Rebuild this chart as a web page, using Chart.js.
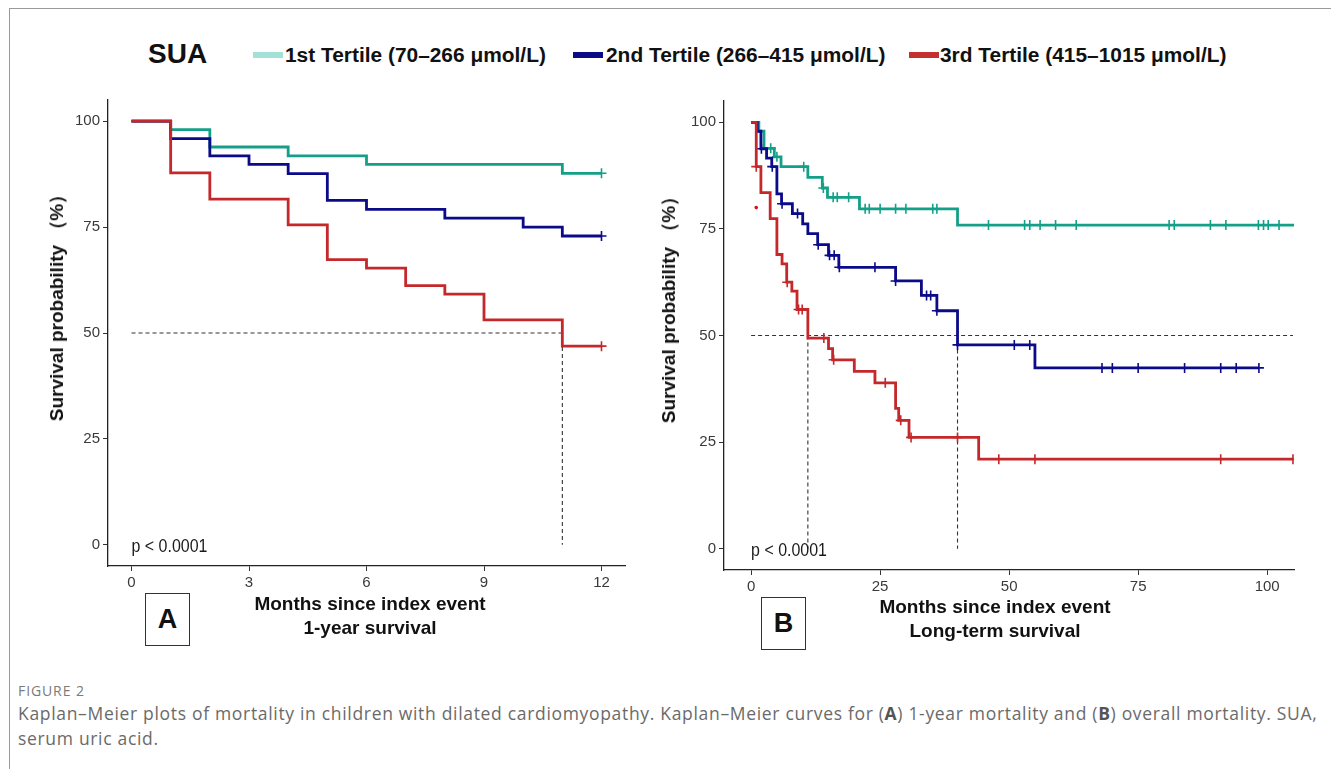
<!DOCTYPE html>
<html lang="en">
<head>
<meta charset="UTF-8">
<title>SUA Kaplan-Meier</title>
<script src="https://cdn.jsdelivr.net/npm/chart.js"></script>
<style>
    body {
        margin: 0;
        width: 1331px;
        height: 769px;
        position: relative;
        overflow: hidden;
        background: #fff;
        font-family: 'Liberation Sans', Arial, sans-serif;
    }
    .frame-top { position: absolute; left: 9px; top: 8px; right: 0; border-top: 1px solid #9a9a9a; }
    .frame-left { position: absolute; left: 9px; top: 8px; bottom: 0; border-left: 1px solid #9a9a9a; }
    canvas { position: absolute; }
    .abs { position: absolute; white-space: nowrap; }
    .sua { left: 148px; top: 38px; font: bold 28px 'Liberation Sans', Arial, sans-serif; color: #111; }
    .swatch { position: absolute; top: 52px; width: 30px; height: 6px; }
    .leg { top: 43px; font: bold 20.9px 'Liberation Sans', Arial, sans-serif; color: #111; }
    .ytitle {
        position: absolute; white-space: nowrap;
        font: bold 19px 'Liberation Sans', Arial, sans-serif; color: #111;
        transform: translate(-50%, -50%) rotate(-90deg);
    }
    .xtitle {
        position: absolute; white-space: nowrap; text-align: center;
        font: bold 19px 'Liberation Sans', Arial, sans-serif; color: #111;
        line-height: 24px; transform: translateX(-50%);
    }
    .panel-box {
        position: absolute; width: 43px; height: 51px;
        border: 1.5px solid #1f3557; background: #fff;
        font: bold 27px 'Liberation Sans', Arial, sans-serif; color: #111;
        display: flex; align-items: center; justify-content: center;
    }
    .figlabel { left: 18px; top: 681px; font: 14px 'Open Sans', sans-serif; color: #7a7a7a; letter-spacing: 0.9px; }
    .caption { left: 18px; top: 701px; font: 17.5px 'Open Sans', sans-serif; color: #6a6a6a; line-height: 25px; letter-spacing: 0.68px; }
    .caption b { color: #555; }
</style>
</head>
<body>
<div class="frame-top"></div>
<div class="frame-left"></div>

<!-- legend -->
<div class="abs sua">SUA</div>
<div class="swatch" style="left:253px;background:#a3e1d8"></div>
<div class="abs leg" style="left:285px">1st Tertile (70–266 μmol/L)</div>
<div class="swatch" style="left:573px;background:#0b0b86"></div>
<div class="abs leg" style="left:606px">2nd Tertile (266–415 μmol/L)</div>
<div class="swatch" style="left:909px;background:#c4302e"></div>
<div class="abs leg" style="left:940px">3rd Tertile (415–1015 μmol/L)</div>

<canvas id="chartA" width="620" height="572" style="left:20px;top:88px"></canvas>
<canvas id="chartB" width="680" height="571" style="left:640px;top:89px"></canvas>

<div class="ytitle" style="left:57px;top:303px">Survival probability （%）</div>
<div class="ytitle" style="left:669px;top:305px">Survival probability （%）</div>

<div class="xtitle" style="left:370px;top:592px">Months since index event<br>1-year survival</div>
<div class="xtitle" style="left:995px;top:595px">Months since index event<br>Long-term survival</div>

<div class="panel-box" style="left:145px;top:593px">A</div>
<div class="panel-box" style="left:761px;top:597px">B</div>

<div class="abs figlabel">FIGURE 2</div>
<div class="abs caption">Kaplan–Meier plots of mortality in children with dilated cardiomyopathy. Kaplan–Meier curves for (<b>A</b>) 1-year mortality and (<b>B</b>) overall mortality. SUA,<br>serum uric acid.</div>

<script>
    // colours of the three tertiles
    const colTeal = '#14a088';
    const colBlue = '#0b0b8a';
    const colRed = '#c4282b';

    // ---- panel A : 1-year survival ----
    const xTicksA = [0, 3, 6, 9, 12];
    const yTicks = [0, 25, 50, 75, 100];

    const tealTimeA = [0, 1, 2, 4, 6, 11, 12];
    const tealSurvA = [100, 98.0, 93.9, 91.8, 89.8, 87.7, 87.7];
    const tealCensA = [12];

    const blueTimeA = [0, 1, 2, 3, 4, 5, 6, 8, 10, 11, 12];
    const blueSurvA = [100, 95.9, 91.8, 89.8, 87.6, 81.3, 79.2, 77.1, 75.0, 72.9, 72.9];
    const blueCensA = [12];

    const redTimeA = [0, 1, 2, 4, 5, 6, 7, 8, 9, 11, 12];
    const redSurvA = [100, 87.8, 81.6, 75.5, 67.3, 65.3, 61.2, 59.2, 53.1, 46.9, 46.9];
    const redCensA = [12];

    const mediansA = [11];
    const medLineEndA = 11;

    // ---- panel B : long-term survival ----
    const xTicksB = [0, 25, 50, 75, 100];

    const tealTimeB = [0, 1.5, 2.5, 4.5, 5.8, 11, 13.8, 14.8, 21, 40, 105.2];
    const tealSurvB = [100, 97.9, 93.9, 91.9, 89.6, 87.1, 84.6, 82.4, 79.7, 75.9, 75.9];
    const tealCensB = [3.8, 5.0, 10.2, 14.0, 15.9, 16.7, 18.9, 22.1, 22.9, 25, 28, 30, 35.2, 36,
                       46, 53, 54, 56, 59, 63, 81, 82, 89, 92, 98.3, 99.3, 100.2, 102.3];

    const blueTimeB = [0, 1.2, 1.9, 3.0, 4.0, 5.0, 5.9, 8.0, 10.0, 11.0, 12.9, 15.0, 17.0, 28.0, 33.0, 36.0, 40.0, 55.0, 98.4];
    const blueSurvB = [100, 97.9, 93.8, 91.6, 89.6, 83.2, 80.9, 78.6, 76.2, 73.9, 71.3, 68.8, 66.0, 62.8, 59.4, 55.8, 47.8, 42.4, 42.4];
    const blueCensB = [2.0, 4.1, 6.0, 9.0, 13.0, 15.2, 16.1, 17.1, 24.0, 28.0, 34.0, 34.8, 36.0, 40.0,
                       51, 54, 68, 70, 75, 84, 91, 94, 98.4];

    const redTimeB = [0, 1.0, 1.9, 3.7, 5.0, 6.0, 6.9, 7.9, 8.9, 11.0, 15.0, 15.8, 20.0, 24.0, 28.0, 28.6, 30.6, 44.1, 105];
    const redSurvB = [100, 89.6, 83.5, 77.4, 69.0, 66.8, 62.5, 60.4, 56.1, 49.4, 46.9, 44.3, 41.6, 38.9, 32.9, 30.1, 26.1, 21.0, 21.0];
    const redCensB = [1.0, 7.0, 9.2, 9.9, 14.1, 16.0, 26.0, 29.0, 31.0, 40.0, 48, 55, 91, 105];
    const redDotTimeB = [1.0];
    const redDotSurvB = [80.0];

    const mediansB = [11, 40];
    const medLineEndB = 105;

    const medianLevel = 50;
    const pText = 'p < 0.0001';

    const tickFont = { family: "'Liberation Sans Narrow', 'Liberation Sans', Arial, sans-serif", size: 15 };

    // survival value at time t (step function)
    function survAt(times, surv, t) {
        let v = surv[0];
        for (let i = 0; i < times.length; i++) {
            if (times[i] <= t + 1e-9) v = surv[i];
        }
        return v;
    }

    function curve(times, surv, color, order) {
        return {
            type: 'line',
            data: times.map((t, i) => ({ x: t, y: surv[i] })),
            borderColor: color,
            borderWidth: 2.8,
            stepped: 'before',
            pointRadius: 0,
            fill: false,
            order: order
        };
    }

    function censors(times, surv, cens, color, order) {
        return {
            type: 'scatter',
            data: cens.map(t => ({ x: t, y: survAt(times, surv, t) })),
            pointStyle: 'cross',
            pointRadius: 5,
            pointBorderWidth: 1.6,
            borderColor: color,
            backgroundColor: color,
            order: order
        };
    }

    function dashed(points) {
        return {
            type: 'line',
            data: points,
            borderColor: '#333',
            borderWidth: 1.1,
            borderDash: [4, 3],
            pointRadius: 0,
            fill: false,
            order: 10
        };
    }

    function medianLines(medians, hEnd) {
        const sets = [dashed([{ x: 0, y: medianLevel }, { x: hEnd, y: medianLevel }])];
        medians.forEach(m => sets.push(dashed([{ x: m, y: medianLevel }, { x: m, y: 0 }])));
        return sets;
    }

    // p-value written in a condensed style at (0, 0)
    const pValuePlugin = {
        id: 'pvalue',
        afterDatasetsDraw(chart) {
            const c = chart.ctx;
            const px = chart.scales.x.getPixelForValue(0);
            const py = chart.scales.y.getPixelForValue(0) + 2;
            c.save();
            c.translate(px, py);
            c.scale(0.84, 1);
            c.font = "19px 'Liberation Sans Narrow', 'Liberation Sans', Arial, sans-serif";
            c.fillStyle = '#1a1a1a';
            c.textAlign = 'left';
            c.textBaseline = 'middle';
            c.fillText(pText, 0, 0);
            c.restore();
        }
    };

    function axis(min, max, ticks, fitFn) {
        return {
            type: 'linear',
            min: min,
            max: max,
            afterBuildTicks: s => { s.ticks = ticks.map(v => ({ value: v })); },
            afterFit: fitFn,
            grid: { drawOnChartArea: false, color: '#333', tickLength: 5, tickWidth: 1 },
            border: { color: '#222', width: 1.3 },
            ticks: { font: tickFont, color: '#3a3a3a', padding: 3, callback: v => String(v) }
        };
    }

    function makeChart(id, datasets, xMin, xMax, xTicks, yW, xH, pad) {
        return new Chart(document.getElementById(id).getContext('2d'), {
            data: { datasets: datasets },
            options: {
                responsive: false,
                animation: false,
                layout: { padding: pad },
                plugins: { legend: { display: false }, tooltip: { enabled: false } },
                scales: {
                    x: axis(xMin, xMax, xTicks, s => { s.height = xH; }),
                    y: axis(-5, 105, yTicks, s => { s.width = yW; })
                }
            },
            plugins: [pValuePlugin]
        });
    }

    makeChart('chartA', [
        curve(redTimeA, redSurvA, colRed, 1),
        censors(redTimeA, redSurvA, redCensA, colRed, 1),
        curve(blueTimeA, blueSurvA, colBlue, 2),
        censors(blueTimeA, blueSurvA, blueCensA, colBlue, 2),
        curve(tealTimeA, tealSurvA, colTeal, 3),
        censors(tealTimeA, tealSurvA, tealCensA, colTeal, 3),
        ...medianLines(mediansA, medLineEndA)
    ], -0.6, 12.6, xTicksA, 88, 94, { top: 3, right: 15, left: 0, bottom: 0 });

    makeChart('chartB', [
        curve(redTimeB, redSurvB, colRed, 1),
        censors(redTimeB, redSurvB, redCensB, colRed, 1),
        {
            type: 'scatter',
            data: redDotTimeB.map((t, i) => ({ x: t, y: redDotSurvB[i] })),
            pointRadius: 1.8,
            backgroundColor: '#e01010',
            borderWidth: 0,
            order: 1
        },
        curve(blueTimeB, blueSurvB, colBlue, 2),
        censors(blueTimeB, blueSurvB, blueCensB, colBlue, 2),
        curve(tealTimeB, tealSurvB, colTeal, 3),
        censors(tealTimeB, tealSurvB, tealCensB, colTeal, 3),
        ...medianLines(mediansB, medLineEndB)
    ], -5.25, 105.2, xTicksB, 84, 90, { top: 3, right: 26, left: 0, bottom: 0 });
</script>
</body>
</html>
